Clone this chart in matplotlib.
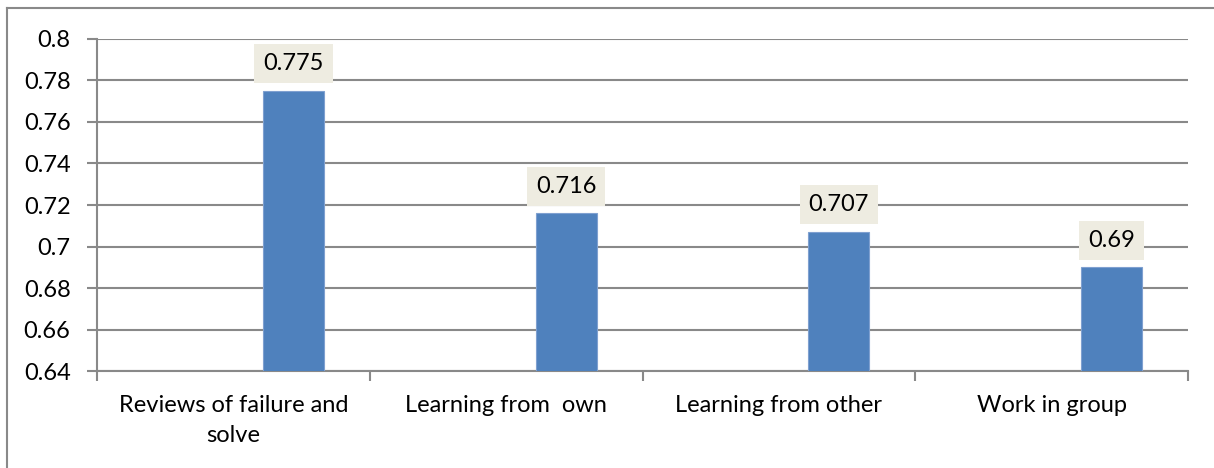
import numpy as np
import matplotlib.pyplot as plt
from matplotlib.lines import Line2D

categories = ['Reviews of failure and\nsolve', 'Learning from  own', 'Learning from other', 'Work in group']
values = [0.775, 0.716, 0.707, 0.69]
value_labels = ['0.775', '0.716', '0.707', '0.69']
y_ticks = [0.64, 0.66, 0.68, 0.70, 0.72, 0.74, 0.76, 0.78, 0.80]
y_tick_labels = ['0.64', '0.66', '0.68', '0.7', '0.72', '0.74', '0.76', '0.78', '0.8']

plt.rcParams['font.family'] = ['Lato', 'DejaVu Sans']
grid_c = '#898989'
fs = 17

fig = plt.figure(figsize=(12.14, 4.68), dpi=100)
ax = fig.add_axes([0.0799, 0.2066, 0.8987, 0.7107])

x = np.arange(len(categories))
# bar sits right of the category centre (empty first series in the original)
ax.bar(x + 0.22, values, width=0.223, color='#4F81BD', edgecolor='#7FA0D0', linewidth=0.8, zorder=3)

for xi, v, lab in zip(x, values, value_labels):
    ax.annotate(lab, (xi + 0.22, v), xytext=(0, 12), textcoords='offset points',
                ha='center', va='bottom', fontsize=fs, zorder=4,
                bbox=dict(boxstyle='square,pad=0.38', fc='#EEECE1', ec='none'))

ax.set_xlim(-0.5, 3.5)
ax.set_ylim(0.64, 0.8)
ax.set_yticks(y_ticks)
ax.set_yticklabels(y_tick_labels)
ax.set_xticks(x)
ax.set_xticklabels(categories, linespacing=1.55)
ax.set_xticks(np.arange(-0.5, 4.0, 1.0), minor=True)
ax.tick_params(axis='x', which='major', length=0, pad=17, labelsize=fs)
ax.tick_params(axis='x', which='minor', length=7, width=1.5, color=grid_c, direction='out')
ax.tick_params(axis='y', length=7, width=1.5, color=grid_c, pad=12, labelsize=fs)

ax.yaxis.grid(True, color=grid_c, linewidth=1.5, zorder=0)
ax.set_axisbelow(True)
for s in ['top', 'right']:
    ax.spines[s].set_visible(False)
for s in ['left', 'bottom']:
    ax.spines[s].set_color(grid_c)
    ax.spines[s].set_linewidth(1.5)

# outer chart border (only left and top visible in the reference)
fig.add_artist(Line2D([7 / 1214, 7 / 1214], [0, 1 - 8 / 468], transform=fig.transFigure, color=grid_c, lw=1.5))
fig.add_artist(Line2D([7 / 1214, 1], [1 - 8 / 468, 1 - 8 / 468], transform=fig.transFigure, color=grid_c, lw=1.5))

plt.savefig('out.png', dpi=100)
